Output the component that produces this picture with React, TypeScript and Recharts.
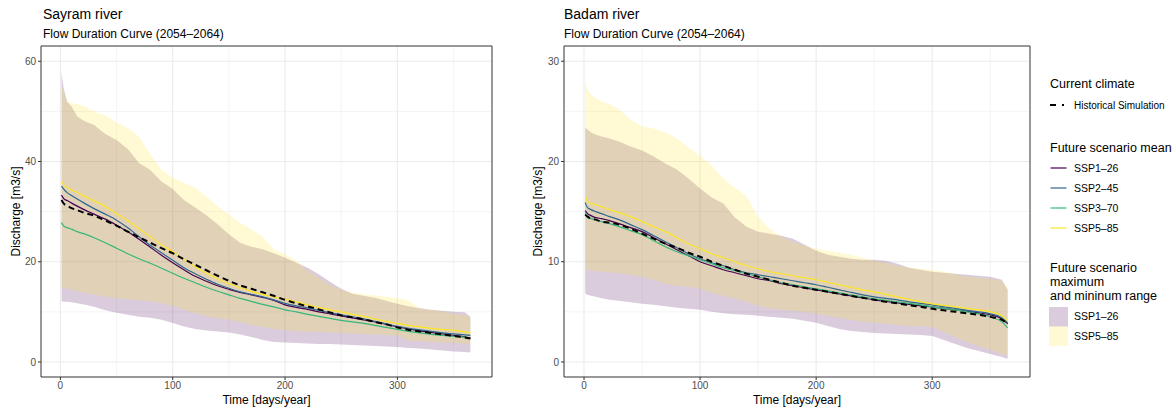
import React from "react";
import { Area, CartesianGrid, ComposedChart, Line, ReferenceArea, XAxis, YAxis } from "recharts";

const FONT = "'Liberation Sans', Arial, Helvetica, sans-serif";

// exceedance day (days/year)
const DAYS = [1, 3, 6, 10, 15, 22, 30, 40, 50, 60, 70, 80, 90, 100, 110, 120, 130, 140, 150, 160, 170, 180, 190, 200, 210, 220, 230, 240, 250, 260, 270, 280, 290, 300, 310, 320, 330, 340, 350, 360, 365];

// Sayram river, discharge m3/s
const SAY_HIST = [32.3, 31.6, 31.2, 30.7, 30.3, 29.7, 29.2, 28.2, 27.2, 26, 24.9, 23.8, 22.7, 21.7, 20.5, 19.4, 18.3, 17.2, 16.2, 15.3, 14.6, 13.9, 13.2, 12.4, 11.7, 11.1, 10.5, 9.9, 9.3, 8.9, 8.5, 8, 7.5, 6.9, 6.4, 6.1, 5.8, 5.5, 5.2, 4.9, 4.7];
const SAY_S1 = [33.3, 32.6, 32.2, 31.7, 31.1, 30.3, 29.5, 28.5, 27.3, 26, 24.5, 22.9, 21.3, 19.8, 18.4, 17.1, 16.1, 15.2, 14.5, 13.9, 13.4, 12.9, 12.3, 11.4, 10.9, 10.5, 10, 9.6, 9.2, 8.8, 8.4, 8, 7.5, 7, 6.6, 6.2, 5.9, 5.6, 5.3, 5, 4.8];
const SAY_S2 = [35.1, 34.5, 33.8, 33.2, 32.5, 31.6, 30.6, 29.5, 28.3, 26.8, 25, 23.3, 21.8, 20.3, 18.8, 17.6, 16.5, 15.5, 14.7, 14, 13.5, 13, 12.4, 11.7, 11.2, 10.8, 10.3, 9.8, 9.4, 9, 8.6, 8.1, 7.6, 7.1, 6.7, 6.4, 6.1, 5.8, 5.6, 5.4, 5.3];
const SAY_S3 = [27.8, 27.1, 26.8, 26.5, 26, 25.5, 24.8, 23.8, 22.7, 21.6, 20.6, 19.7, 18.7, 17.7, 16.7, 15.8, 14.9, 14.1, 13.4, 12.7, 12.1, 11.5, 11, 10.4, 10, 9.5, 9.1, 8.7, 8.3, 8, 7.7, 7.3, 6.9, 6.5, 6.1, 5.8, 5.5, 5.3, 5.1, 4.9, 4.7];
const SAY_S5 = [36, 35.3, 34.8, 34.3, 33.8, 33, 32.2, 31, 29.6, 28.2, 26.6, 25, 23.4, 22, 20.5, 19, 17.7, 16.6, 15.6, 14.8, 14.1, 13.5, 13, 12.5, 12, 11.4, 10.9, 10.4, 10, 9.5, 9.1, 8.6, 8.1, 7.7, 7.3, 7, 6.7, 6.5, 6.3, 6, 5.8];
const SAY_R1_LO = [12.1, 12, 12, 11.9, 11.7, 11.4, 11, 10.3, 9.8, 9.4, 9, 8.8, 8.4, 7.8, 7.1, 6.6, 6.3, 6.1, 5.9, 5.5, 5, 4.4, 4, 3.9, 3.8, 3.7, 3.6, 3.6, 3.5, 3.4, 3.3, 3.2, 3.1, 3, 2.8, 2.7, 2.5, 2.3, 2.1, 2, 1.9];
const SAY_R1_HI = [57.9, 54.5, 52, 51, 49, 48, 47.3, 45.5, 44.3, 42.5, 39.7, 38.3, 36, 34.5, 32.3, 30.8, 29.3, 27.5, 25.5, 23.8, 23, 22.5, 21.7, 20.8, 19.8, 18.8, 17.5, 16, 14.6, 13.6, 13.2, 12.8, 12.2, 11.6, 11.1, 10.7, 10.4, 10.2, 10, 9.9, 9];
const SAY_R5_LO = [14.9, 14.8, 14.6, 14.4, 14.1, 13.8, 13.4, 13, 12.7, 12.5, 12.3, 12.1, 11.7, 11.2, 10.4, 9.7, 9.1, 8.7, 8.4, 8, 7.4, 7, 6.6, 6.4, 6.2, 6.1, 6, 5.9, 5.8, 5.7, 5.6, 5.5, 5.4, 5.3, 4.3, 4.2, 4, 3.9, 3.8, 3.7, 3.6];
const SAY_R5_HI = [55, 54, 52, 51.7, 51.5, 51, 50, 49.2, 47.8, 46.7, 45, 41.5, 38.3, 36.8, 35.7, 34.8, 33, 31, 29.5, 27.8, 26.5, 25, 22.5, 21.5, 20.2, 18.2, 16.8, 15.3, 14.4, 13.8, 13.5, 13.3, 13, 12.7, 12.3, 10.6, 10.4, 10.1, 9.6, 9.3, 9];

// Badam river, discharge m3/s
const BAD_HIST = [14.7, 14.5, 14.3, 14.2, 14, 13.9, 13.7, 13.3, 12.8, 12.3, 11.8, 11.4, 10.9, 10.5, 10, 9.6, 9.2, 8.8, 8.5, 8.2, 7.9, 7.6, 7.4, 7.2, 7, 6.8, 6.6, 6.4, 6.2, 6, 5.85, 5.65, 5.5, 5.3, 5.15, 5, 4.85, 4.7, 4.5, 4.2, 3.8];
const BAD_S1 = [15.1, 14.8, 14.6, 14.4, 14.3, 14.1, 13.8, 13.4, 13, 12.4, 11.8, 11.2, 10.6, 10, 9.6, 9.2, 8.9, 8.6, 8.3, 8.1, 7.8, 7.6, 7.4, 7.2, 7, 6.8, 6.6, 6.4, 6.2, 6.05, 5.9, 5.75, 5.6, 5.5, 5.35, 5.2, 5.05, 4.9, 4.7, 4.3, 3.8];
const BAD_S2 = [15.9, 15.4, 15.2, 15, 14.8, 14.5, 14.2, 13.7, 13.2, 12.6, 12, 11.4, 10.8, 10.3, 9.9, 9.6, 9.2, 8.9, 8.7, 8.5, 8.3, 8.1, 7.9, 7.7, 7.45, 7.2, 6.95, 6.7, 6.5, 6.35, 6.2, 6, 5.85, 5.7, 5.5, 5.35, 5.15, 5, 4.8, 4.4, 3.9];
const BAD_S3 = [15, 14.5, 14.3, 14.2, 14, 13.8, 13.5, 13.1, 12.7, 12.1, 11.5, 11, 10.6, 10.2, 9.8, 9.4, 9.1, 8.8, 8.5, 8.2, 7.9, 7.7, 7.5, 7.3, 7.1, 6.9, 6.7, 6.5, 6.3, 6.15, 6, 5.85, 5.7, 5.5, 5.35, 5.2, 5, 4.8, 4.5, 4, 3.4];
const BAD_S5 = [16.5, 16, 15.8, 15.7, 15.5, 15.2, 14.9, 14.5, 14, 13.5, 13, 12.4, 11.8, 11.3, 10.8, 10.4, 10, 9.6, 9.3, 9, 8.8, 8.6, 8.4, 8.2, 7.95, 7.7, 7.45, 7.2, 7, 6.75, 6.5, 6.25, 6, 5.8, 5.65, 5.5, 5.35, 5.2, 5, 4.6, 4.1];
const BAD_R1_LO = [6.8, 6.7, 6.6, 6.5, 6.35, 6.2, 6.1, 5.95, 5.8, 5.7, 5.55, 5.4, 5.3, 5.2, 5, 4.85, 4.75, 4.7, 4.6, 4.5, 4.4, 4.3, 4.1, 3.9, 3.6, 3.3, 3.1, 3, 2.9, 2.85, 2.8, 2.75, 2.7, 2.6, 2.2, 1.8, 1.4, 1.1, 0.8, 0.5, 0.3];
const BAD_R1_HI = [23.4, 23.2, 22.9, 22.7, 22.5, 22.3, 22, 21.5, 21.1, 20.5, 19.8, 19.2, 18.3, 17.3, 16.4, 15.8, 14.4, 13.5, 13, 12.8, 12.6, 12.3, 11.7, 11.1, 10.7, 10.5, 10.3, 10.2, 10.2, 10.1, 9.8, 9.4, 9.2, 9, 8.9, 8.8, 8.7, 8.6, 8.5, 8.2, 7.2];
const BAD_R5_LO = [9.2, 9.2, 9.15, 9.1, 9, 8.95, 8.85, 8.7, 8.5, 8.2, 7.8, 7.6, 7.5, 7.3, 6.9, 6.6, 6.3, 6, 5.6, 5.3, 5.2, 5.1, 5, 4.8, 4.6, 4.4, 4.2, 4, 3.9, 3.8, 3.7, 3.6, 3.6, 3.5, 3, 2.5, 2, 1.6, 1.2, 0.8, 0.6];
const BAD_R5_HI = [28, 27.2, 26.7, 26.3, 26, 25.7, 25.2, 24.2, 23.5, 23.3, 22.9, 22.3, 21.4, 20.6, 19.6, 18.3, 17.4, 16.5, 14.5, 13.3, 12.5, 12, 11.6, 11.3, 11.1, 10.9, 10.7, 10.4, 10.1, 9.9, 9.6, 9.4, 9.3, 9.2, 9, 8.75, 8.5, 8.4, 8.3, 8.1, 7.4];

const X_MAJOR = [0, 100, 200, 300];
const X_MINOR = [50, 150, 250, 350];
const X_DOMAIN: [number, number] = [-17.25, 384.25];

const SCENARIOS = [
  { key: "s1", name: "SSP1\u201326", color: "#440154" },
  { key: "s2", name: "SSP2\u201345", color: "#31688E" },
  { key: "s3", name: "SSP3\u201370", color: "#35B779" },
  { key: "s5", name: "SSP5\u201385", color: "#FDE725" },
];
const RANGES = [
  { key: "r1", name: "SSP1\u201326", color: "#440154" },
  { key: "r5", name: "SSP5\u201385", color: "#FDE725" },
];

function buildRows(h: number[], s1: number[], s2: number[], s3: number[], s5: number[], r1lo: number[], r1hi: number[], r5lo: number[], r5hi: number[]) {
  return DAYS.map((day, i) => ({
    day,
    hist: h[i],
    s1: s1[i],
    s2: s2[i],
    s3: s3[i],
    s5: s5[i],
    r1: [r1lo[i], r1hi[i]],
    r5: [r5lo[i], r5hi[i]],
  }));
}

const sayram = buildRows(SAY_HIST, SAY_S1, SAY_S2, SAY_S3, SAY_S5, SAY_R1_LO, SAY_R1_HI, SAY_R5_LO, SAY_R5_HI);
const badam = buildRows(BAD_HIST, BAD_S1, BAD_S2, BAD_S3, BAD_S5, BAD_R1_LO, BAD_R1_HI, BAD_R5_LO, BAD_R5_HI);

const tickStyle = { fontSize: 10, fill: "#4d4d4d", fontFamily: FONT };

function Panel({ data, left, width, yDomain, yMajor, yMinor }: {
  data: any[];
  left: number;
  width: number;
  yDomain: [number, number];
  yMajor: number[];
  yMinor: number[];
}) {
  return (
    <div style={{ position: "absolute", left, top: 0 }}>
      <ComposedChart width={width} height={410} data={data} margin={{ top: 46, right: 8, bottom: 0, left: 0 }}>
        <CartesianGrid stroke="#ebebeb" strokeWidth={0.55} verticalValues={X_MINOR} horizontalValues={yMinor} />
        <CartesianGrid stroke="#ebebeb" strokeWidth={1.1} verticalValues={X_MAJOR} horizontalValues={yMajor} />
        <XAxis
          type="number"
          dataKey="day"
          domain={X_DOMAIN}
          ticks={X_MAJOR}
          allowDataOverflow
          interval={0}
          height={33}
          tickSize={3}
          tickMargin={2}
          axisLine={false}
          tickLine={{ stroke: "#333333" }}
          tick={tickStyle}
        />
        <YAxis
          type="number"
          domain={yDomain}
          ticks={yMajor}
          allowDataOverflow
          interval={0}
          width={41}
          tickSize={3}
          tickMargin={2}
          axisLine={false}
          tickLine={{ stroke: "#333333" }}
          tick={tickStyle}
        />
        {RANGES.map((r) => (
          <Area
            key={r.key}
            type="linear"
            dataKey={r.key}
            stroke="none"
            fill={r.color}
            fillOpacity={0.2}
            isAnimationActive={false}
            activeDot={false}
          />
        ))}
        {SCENARIOS.map((s) => (
          <Line
            key={s.key}
            type="monotone"
            dataKey={s.key}
            stroke={s.color}
            strokeWidth={1.2}
            dot={false}
            activeDot={false}
            isAnimationActive={false}
          />
        ))}
        <Line
          type="monotone"
          dataKey="hist"
          stroke="#000000"
          strokeWidth={2}
          strokeDasharray="6 4"
          dot={false}
          activeDot={false}
          isAnimationActive={false}
        />
        <ReferenceArea
          x1={X_DOMAIN[0]}
          x2={X_DOMAIN[1]}
          y1={yDomain[0]}
          y2={yDomain[1]}
          fill="none"
          stroke="#333333"
          strokeWidth={1}
        />
      </ComposedChart>
    </div>
  );
}

function Overlay() {
  const lx = 1050;
  return (
    <svg width={1176} height={410} style={{ position: "absolute", left: 0, top: 0, pointerEvents: "none" }} fontFamily={FONT}>
      <text x={43} y={18.5} fontSize={14} fill="#000">Sayram river</text>
      <text x={43} y={37.5} fontSize={12} fill="#000">Flow Duration Curve (2054–2064)</text>
      <text x={564} y={18.5} fontSize={14} fill="#000">Badam river</text>
      <text x={564} y={37.5} fontSize={12} fill="#000">Flow Duration Curve (2054–2064)</text>

      <text x={266.5} y={404} fontSize={12} textAnchor="middle" fill="#000">Time [days/year]</text>
      <text x={797} y={404} fontSize={12} textAnchor="middle" fill="#000">Time [days/year]</text>
      <text transform="translate(19.5,211.5) rotate(-90)" fontSize={12} textAnchor="middle" fill="#000">Discharge [m3/s]</text>
      <text transform="translate(541.5,211.5) rotate(-90)" fontSize={12} textAnchor="middle" fill="#000">Discharge [m3/s]</text>

      <text x={lx} y={87.5} fontSize={12.5} fill="#000">Current climate</text>
      <line x1={lx} x2={lx + 14} y1={105} y2={105} stroke="#000" strokeWidth={2} strokeDasharray="6 6" />
      <text x={1074} y={108.5} fontSize={10} fill="#000">Historical Simulation</text>

      <text x={lx} y={151.5} fontSize={12.5} fill="#000">Future scenario mean</text>
      {SCENARIOS.map((s, i) => (
        <g key={s.key}>
          <line x1={lx + 0.5} x2={lx + 16.5} y1={168 + i * 20} y2={168 + i * 20} stroke={s.color} strokeWidth={1.2} />
          <text x={1074} y={171.7 + i * 20} fontSize={10.5} fill="#000">{s.name}</text>
        </g>
      ))}

      <text x={lx} y={272.4} fontSize={12.5} fill="#000">Future scenario</text>
      <text x={lx} y={286.4} fontSize={12.5} fill="#000">maximum</text>
      <text x={lx} y={300.4} fontSize={12.5} fill="#000">and mininum range</text>
      {RANGES.map((r, i) => (
        <g key={r.key}>
          <rect x={1049} y={307 + i * 19.5} width={19} height={19.5} fill={r.color} fillOpacity={0.2} />
          <text x={1074} y={320 + i * 19.5} fontSize={10.5} fill="#000">{r.name}</text>
        </g>
      ))}
    </svg>
  );
}

export default function App() {
  return (
    <div style={{ position: "absolute", left: 0, top: 0, width: 1176, height: 410, background: "#fff", fontFamily: FONT }}>
      <Panel data={sayram} left={0} width={500} yDomain={[-3.0, 63.05]} yMajor={[0, 20, 40, 60]} yMinor={[10, 30, 50]} />
      <Panel data={badam} left={523} width={515} yDomain={[-1.5, 31.52]} yMajor={[0, 10, 20, 30]} yMinor={[5, 15, 25]} />
      <Overlay />
    </div>
  );
}
